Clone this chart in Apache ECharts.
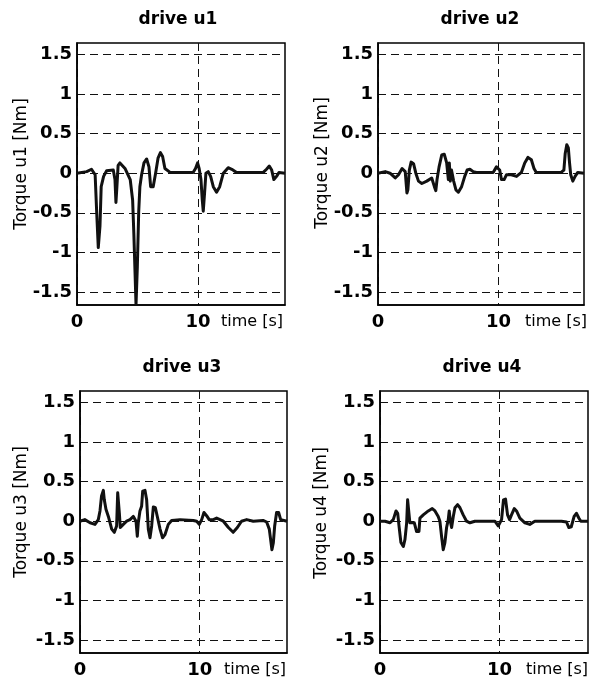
<!DOCTYPE html>
<html>
<head>
<meta charset="utf-8">
<script src="https://cdn.jsdelivr.net/npm/echarts@6/dist/echarts.min.js"></script>
<style>html,body{margin:0;padding:0;background:#fff}#c{width:590px;height:679px}</style>
</head>
<body>
<div id="c"></div>
<script>
// ---- data ----
const titles = ['drive u1', 'drive u2', 'drive u3', 'drive u4'];
const yNames = ['Torque u1 [Nm]', 'Torque u2 [Nm]', 'Torque u3 [Nm]', 'Torque u4 [Nm]'];
const xTicks = [0, 10];
const yTicks = [-1.5, -1, -0.5, 0, 0.5, 1, 1.5];
const xMax = [17.2, 17.1, 17.3, 17.4];
const yMin = -1.665, yMax = 1.645;

const t1 = [0,0.8,1.2,1.5,1.63,1.76,1.9,2.0,2.2,2.45,3.0,3.14,3.22,3.3,3.4,3.55,3.97,4.4,4.6,4.7,4.8,4.88,4.99,5.1,5.2,5.34,5.54,5.76,5.95,6.09,6.3,6.5,6.7,6.9,7.08,7.27,7.7,9.6,9.8,9.97,10.1,10.25,10.36,10.44,10.55,10.66,10.85,11.05,11.27,11.54,11.8,12.1,12.5,12.8,13.2,15.4,15.67,15.9,16.1,16.28,16.5,16.7,17.2];
const u1 = [0,0.02,0.05,-0.02,-0.5,-0.94,-0.67,-0.17,-0.04,0.03,0.04,-0.08,-0.37,-0.17,0.1,0.13,0.06,-0.08,-0.34,-0.76,-1.26,-1.66,-1.18,-0.5,-0.17,-0.02,0.13,0.18,0.08,-0.17,-0.17,0,0.19,0.26,0.21,0.06,0.01,0.01,0.06,0.13,0.06,-0.08,-0.34,-0.48,-0.25,0,0.02,-0.04,-0.17,-0.24,-0.17,0,0.07,0.05,0.01,0.01,0.05,0.09,0.04,-0.08,-0.04,0.01,0];

const t2 = [0,0.6,1.0,1.43,1.7,2.0,2.1,2.26,2.4,2.48,2.6,2.75,2.95,3.14,3.36,3.64,4.05,4.46,4.68,4.8,4.9,5.07,5.29,5.5,5.7,5.84,5.92,6.0,6.1,6.28,6.47,6.67,6.94,7.2,7.4,7.63,7.9,8.18,9.56,9.83,9.97,10.1,10.25,10.47,10.66,11.07,11.5,11.9,12.18,12.45,12.73,12.95,13.14,15.2,15.43,15.54,15.67,15.8,15.9,16.0,16.17,16.36,16.58,17.1];
const u2 = [0,0.02,0,-0.06,-0.02,0.06,0.08,0.02,-0.25,-0.21,0.04,0.14,0.12,0,-0.1,-0.13,-0.1,-0.06,-0.17,-0.22,-0.08,0.08,0.23,0.24,0.13,-0.08,0.13,-0.1,0.04,-0.1,-0.21,-0.24,-0.17,-0.04,0.04,0.05,0.02,0.01,0.01,0.08,0.1,0.04,-0.08,-0.08,-0.02,-0.02,-0.04,0.01,0.13,0.2,0.17,0.06,0.01,0.01,0.04,0.25,0.36,0.32,0.13,-0.02,-0.1,-0.04,0.01,0];

const t3 = [0,0.4,0.84,1.25,1.53,1.67,1.8,1.95,2.03,2.17,2.37,2.65,2.87,3.06,3.15,3.23,3.29,3.37,3.62,3.9,4.18,4.46,4.68,4.79,4.87,5.01,5.15,5.24,5.43,5.57,5.71,5.85,5.99,6.13,6.3,6.46,6.69,6.9,7.1,7.38,7.66,8.36,9.47,9.75,9.97,10.17,10.36,10.58,10.8,11.14,11.42,11.7,11.98,12.4,12.8,13.15,13.5,13.93,14.48,15.3,15.6,15.82,15.93,16.04,16.16,16.27,16.43,16.6,16.77,17.3];
const u3 = [0,0.02,-0.02,-0.04,0.02,0.13,0.32,0.39,0.27,0.15,0.06,-0.1,-0.14,-0.06,0.36,0.38,0.1,-0.08,-0.04,0,0.02,0.06,0,-0.19,-0.02,0.13,0.19,0.38,0.39,0.27,-0.1,-0.21,-0.06,0.18,0.17,0.06,-0.1,-0.21,-0.17,-0.04,0.01,0.02,0.01,0,-0.04,0.02,0.11,0.07,0.02,0.02,0.04,0.02,0,-0.08,-0.14,-0.08,0,0.02,0,0.01,-0.01,-0.1,-0.23,-0.36,-0.27,-0.06,0.11,0.11,0.02,0];

const t4 = [0,0.42,0.84,1.11,1.34,1.48,1.59,1.75,1.95,2.09,2.23,2.31,2.42,2.5,2.65,2.87,3.06,3.26,3.34,3.62,4.04,4.37,4.6,4.87,5.01,5.15,5.29,5.43,5.57,5.71,5.79,5.88,5.99,6.13,6.27,6.49,6.69,6.96,7.24,7.52,7.94,9.61,9.89,10.03,10.17,10.33,10.5,10.67,10.84,11.0,11.23,11.42,11.7,12.12,12.53,12.95,14.07,15.18,15.6,15.8,16.0,16.24,16.43,16.63,16.8,17.4];
const u4 = [0,0,-0.02,0.02,0.13,0.1,-0.06,-0.27,-0.32,-0.23,-0.02,0.27,0.27,-0.02,0,-0.02,-0.13,-0.13,0.04,0.08,0.13,0.16,0.13,0.06,0,-0.19,-0.36,-0.27,-0.08,0.02,0.13,0,-0.08,0.06,0.17,0.21,0.17,0.08,0,-0.02,0,0,-0.06,-0.07,0.02,0.27,0.28,0.08,0.02,0.08,0.16,0.13,0.04,-0.02,-0.04,0,0,0,-0.01,-0.08,-0.07,0.06,0.1,0.04,0,0];

const times = [t1, t2, t3, t4];
const values = [u1, u2, u3, u4];

// ---- layout ----
const grids = [
  {left: 77, top: 43, width: 208, height: 262},
  {left: 378, top: 43, width: 206, height: 262},
  {left: 80, top: 391, width: 207, height: 262},
  {left: 380, top: 391, width: 208, height: 262}
];
const titlePos = [[178, 22], [480, 22], [182, 370], [482, 370]];
const yNamePos = [[22, 164], [323, 163], [22, 512], [322, 513]];
const timePos = [[252, 322], [556, 322], [255, 670], [557, 670]];

const FONT = '"DejaVu Sans", sans-serif';
const gridLine = {show: true, lineStyle: {color: '#111', width: 1, type: [8, 5]}};

const option = {
  animation: false,
  backgroundColor: '#fff',
  title: titles.map((t, i) => ({
    text: t, left: titlePos[i][0], top: titlePos[i][1] - 11, textAlign: 'center', padding: 0,
    textStyle: {fontFamily: FONT, fontWeight: 'bold', fontSize: 17, color: '#000'}
  })),
  grid: grids.map(g => Object.assign({show: true, borderColor: '#000', borderWidth: 1.5, backgroundColor: 'transparent'}, g)),
  xAxis: grids.map((g, i) => ({
    type: 'value', gridIndex: i, min: 0, max: xMax[i], interval: 10,
    axisLine: {show: true, onZero: false, lineStyle: {color: '#000', width: 1.5}},
    axisTick: {show: false, customValues: xTicks},
    axisLabel: {show: true, customValues: xTicks, margin: 8, color: '#000', fontFamily: FONT, fontWeight: 'bold', fontSize: 18},
    splitLine: gridLine
  })),
  yAxis: grids.map((g, i) => ({
    type: 'value', gridIndex: i, min: yMin, max: yMax,
    axisLine: {show: true, onZero: false, lineStyle: {color: '#000', width: 1.5}},
    axisTick: {show: false, customValues: yTicks},
    axisLabel: {show: true, customValues: yTicks, margin: 5, color: '#000', fontFamily: FONT, fontWeight: 'bold', fontSize: 18},
    splitLine: gridLine
  })),
  graphic: [].concat(
    yNames.map((n, i) => ({
      type: 'text', x: yNamePos[i][0], y: yNamePos[i][1], rotation: Math.PI / 2,
      style: {text: n, fill: '#000', font: '17px ' + FONT, textAlign: 'center', textVerticalAlign: 'middle'}
    })),
    timePos.map(p => ({
      type: 'text', x: p[0], y: p[1],
      style: {text: 'time [s]', fill: '#000', font: '16px ' + FONT, textAlign: 'center', textVerticalAlign: 'middle'}
    }))
  ),
  series: values.map((v, i) => ({
    type: 'line', xAxisIndex: i, yAxisIndex: i, showSymbol: false, symbol: 'none', smooth: false,
    clip: true, z: 5,
    lineStyle: {color: '#111', width: 3, join: 'round'},
    data: times[i].map((t, k) => [t, v[k]])
  }))
};
echarts.init(document.getElementById('c')).setOption(option);
</script>
</body>
</html>
